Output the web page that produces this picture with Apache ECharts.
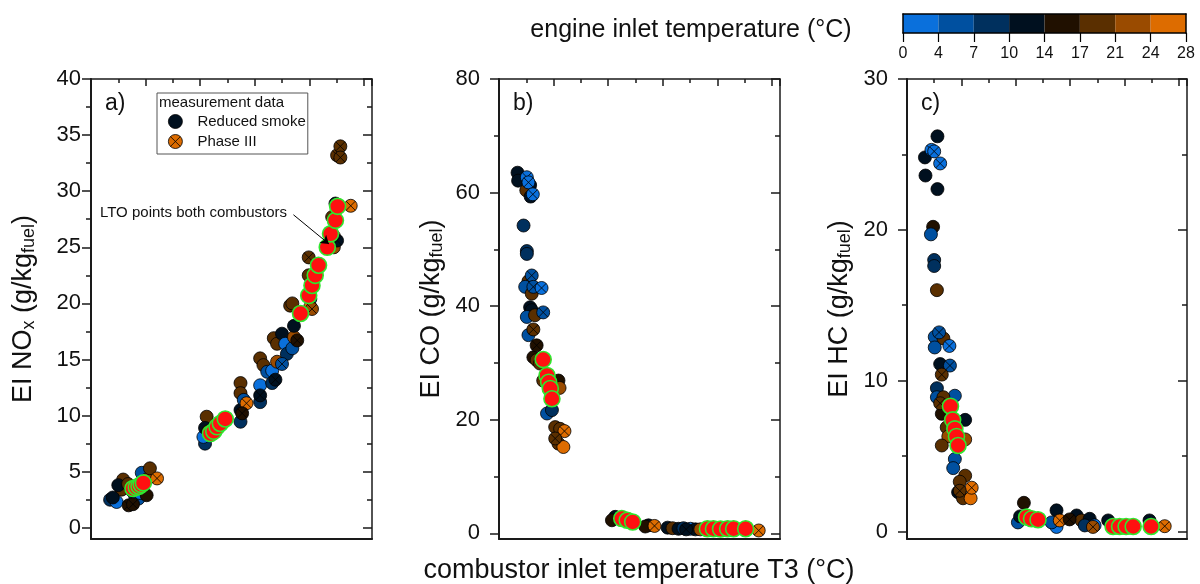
<!DOCTYPE html>
<html><head><meta charset="utf-8">
<script src="https://cdn.jsdelivr.net/npm/echarts@6/dist/echarts.min.js"></script>
<style>html,body{margin:0;padding:0;background:#fff}#c{width:1200px;height:584px}</style>
</head><body><div id="c"></div>
<script>
const FONT = '"Liberation Sans", Arial, sans-serif';

// ---- colour bar (engine inlet temperature, °C)
const tempTicks = [0, 4, 7, 10, 14, 17, 21, 24, 28];
const tempColors = ['#0a70dc', '#0050a0', '#00305e', '#00101f', '#201000', '#5a2f00', '#9a4b00', '#dd6c00'];

// ---- shared x axis (combustor inlet temperature T3, °C; no labels shown)
const t3Min = 100, t3Max = 615;
const t3Step = 100;
const t3Minor = [150, 250, 350, 450, 550];

// ---- y ticks
const noxTicks = [0, 5, 10, 15, 20, 25, 30, 35, 40];
const noxMinor = [2.5, 7.5, 12.5, 17.5, 22.5, 27.5, 32.5, 37.5];
const coTicks = [0, 20, 40, 60, 80];
const coMinor = [10, 30, 50, 70];
const hcTicks = [0, 10, 20, 30];
const hcMinor = [5, 15, 25];

// ---- data: [T3 °C, EI g/kg, engine inlet temperature °C]
const noxSmoke = [
 [135,2.5,9],[147,2.3,2],[156,3.4,19],[159,4.3,19],[150,3.8,12],[181,2.8,9],[187,2.6,5],[190,3.1,2],[193,4.9,5],[202,2.9,15],[202,4.3,22],[208,5.3,19],[168,3.9,19],[140,2.7,12],
 [312,9.9,19],[309,7.5,9],[306,8.1,2],[309,8.9,12],[315,8.6,19],[374,9.45,9],[374,10.5,12],[374,12.9,19],[374,12.0,19],[380,11.4,5],
 [410,11.2,9],[410,12.7,2],[410,15.1,19],[416,14.5,19],[423,13.9,5],[432,12.9,9],[432,14.0,2],[441,14.8,22],[435,16.9,19],[441,16.4,19],[450,17.3,12],[456,16.4,2],[459,15.5,9],[469,16.0,5],[472,17.0,22],[472,18.0,12],[465,19.8,19],[469,20.0,19],[502,20.4,5],[499,22.5,19],
 [545,26.0,26],[545,25.0,22],[542,27.7,19],[548,28.9,12],[539,25.5,9]
];
const noxPhase3 = [
 [169,2.0,15],[177,2.1,15],[221,4.4,26],[175,3.3,19],
 [385,11.1,26],[377,10.2,15],
 [410,11.8,12],[438,13.2,12],[450,14.6,5],[478,16.7,15],[502,19.7,26],[505,19.5,22],[499,24.1,19],
 [551,25.6,12],[551,33.2,19],[557,34.0,19],[557,33.0,19],[576,28.7,26]
];
const noxLTO = [[177,3.5],[183,3.6],[188,3.7],[192,3.85],[196,4.0],[319,8.4],[325,8.6],[331,9.0],[337,9.3],[346,9.7],[484,19.1],[499,20.7],[505,21.6],[511,22.5],[517,23.4],[533,25.0],[539,26.2],[548,27.4],[552,28.65]];

const coSmoke = [
 [134,63.5,12],[135,62.1,12],[157,61.3,12],[150,60.4,19],[158,59.3,12],[145,54.2,9],[151,49.7,9],[151,49.2,9],[154,44.4,19],[148,43.4,5],[160,42.2,19],[157,39.8,12],[160,39.3,12],[151,38.1,5],[166,38.4,19],[154,34.9,5],[163,31.0,15],[169,30.5,19],[175,29.9,19],[181,26.9,19],[209,26.9,15],[211,25.6,22],[188,21.1,5],[197,21.7,9],[203,18.7,19],[212,18.4,19],[209,15.8,19],[218,15.2,26],
 [313,2.9,12],[307,2.3,15],[374,1.4,12],[368,1.2,15],[409,1.0,12],[418,0.9,19],[429,0.8,12],[438,0.9,9],[451,0.8,2],[460,0.7,12],[469,0.7,22]
];
const coPhase3 = [
 [151,62.7,2],[154,61.8,2],[162,59.7,2],[160,45.4,5],[163,43.4,5],[178,43.2,2],[181,38.9,5],[163,35.9,19],[169,33.1,15],[220,18.0,26],[203,16.7,19],
 [385,1.3,26],[576,0.5,26],[443,0.7,12]
];
const coLTO = [[181,30.6],[188,27.8],[191,26.6],[194,25.5],[197,23.7],[325,2.6],[335,2.3],[345,2.0],[482,0.8],[493,0.8],[506,0.75],[519,0.8],[530,0.8],[552,0.8]];

const hcSmoke = [
 [156,26.2,12],[133,24.8,12],[134,23.6,12],[156,22.7,12],[148,20.2,15],[144,19.7,5],[150,18.0,9],[150,17.6,9],[155,16.0,19],[151,12.9,5],[167,12.8,19],[151,12.2,5],[161,11.1,12],[155,9.5,9],[155,8.9,5],[188,9.0,5],[167,8.9,19],[164,7.8,15],[207,7.4,12],[173,6.9,19],[176,6.3,22],[207,6.1,22],[164,5.7,19],[188,4.8,5],[185,4.2,5],[207,3.7,19],[197,3.3,19],[194,2.6,12],[203,2.2,19],[217,2.2,26],
 [315,1.9,15],[304,0.6,5],[308,1.0,12],[375,1.4,12],[375,0.3,2],[366,0.6,5],[412,1.06,12],[421,0.73,19],[436,0.84,12],[445,0.4,2],[427,0.4,9],[470,0.73,12],[546,0.73,12]
];
const hcPhase3 = [
 [145,25.3,2],[150,25.2,2],[161,24.4,2],[159,13.2,5],[178,12.3,2],[179,11.0,5],[164,10.4,19],[161,8.5,19],[219,2.9,26],[197,2.7,19],
 [381,0.73,26],[442,0.3,22],[574,0.35,26],[399,0.8,15]
];
const hcLTO = [[180,8.3],[184,7.4],[188,6.8],[191,6.3],[194,5.7],[320,0.95],[329,0.84],[341,0.78],[479,0.33],[491,0.33],[503,0.33],[516,0.33],[549,0.33]];

// arrow of the annotation in panel a, [T3, EI]
const arrowCoords = [[471, 27.9], [536, 25.3]];

function tempColor(t) {
  for (let i = 0; i < tempColors.length; i++) if (t < tempTicks[i + 1]) return tempColors[i];
  return tempColors[tempColors.length - 1];
}
const crossSymbol = 'path://M10,0A10,10,0,1,1,-10,0A10,10,0,1,1,10,0ZM-7.07,-7.07L7.07,7.07M7.07,-7.07L-7.07,7.07';
const AX = '#1a1a1a';

const panels = [
  { grid: {left: 91, top: 79, width: 281, height: 460}, yMin: -1, yMax: 40, major: noxTicks, minor: noxMinor, margin: 10,
    name: '{n|EI NO}{s|x}{n| (g/kg}{s|fuel}{n|)}', smoke: noxSmoke, phase: noxPhase3, lto: noxLTO, tag: 'a)' },
  { grid: {left: 499, top: 79, width: 281, height: 460}, yMin: -1, yMax: 80, major: coTicks, minor: coMinor, margin: 19,
    name: '{n|EI CO (g/kg}{s|fuel}{n|)}', smoke: coSmoke, phase: coPhase3, lto: coLTO, tag: 'b)' },
  { grid: {left: 907, top: 79, width: 280, height: 460}, yMin: -0.5, yMax: 30, major: hcTicks, minor: hcMinor, margin: 19,
    name: '{n|EI HC (g/kg}{s|fuel}{n|)}', smoke: hcSmoke, phase: hcPhase3, lto: hcLTO, tag: 'c)' }
];

const grids = [], xAxes = [], yAxes = [], series = [], graphics = [];
panels.forEach((p, g) => {
  grids.push(Object.assign({}, p.grid));
  const xb = {gridIndex: g, type: 'value', min: t3Min, max: t3Max, splitLine: {show: false}, axisLabel: {show: false}};
  xAxes.push(Object.assign({}, xb, {position: 'bottom', axisLine: {show: true, onZero: false, lineStyle: {color: AX, width: 2}}, axisTick: {show: false}}));
  xAxes.push(Object.assign({}, xb, {position: 'top', interval: t3Step, axisLine: {show: true, onZero: false, lineStyle: {color: AX, width: 1.5}},
    axisTick: {show: true, inside: true, length: 7, lineStyle: {color: AX, width: 1.5}}}));
  xAxes.push(Object.assign({}, xb, {position: 'top', axisLine: {show: false, onZero: false},
    axisTick: {show: true, inside: true, length: 4, lineStyle: {color: AX, width: 1.5}, customValues: t3Minor}}));
  const yb = {gridIndex: g, type: 'value', min: p.yMin, max: p.yMax, splitLine: {show: false}};
  yAxes.push(Object.assign({}, yb, {position: 'left',
    axisLine: {show: true, onZero: false, lineStyle: {color: AX, width: 2}},
    axisTick: {show: true, inside: false, length: 9, lineStyle: {color: AX, width: 1.5}, customValues: p.major},
    axisLabel: {show: true, customValues: p.major, margin: p.margin, color: '#111', fontSize: 22, fontFamily: FONT},
    name: p.name, nameLocation: 'middle', nameGap: 53,
    nameTextStyle: {color: '#111', fontFamily: FONT, rich: {
      n: {fontSize: 27, fontFamily: FONT, color: '#111'},
      s: {fontSize: 18, fontFamily: FONT, color: '#111', padding: [11, 0, 0, 0]}}}}));
  yAxes.push(Object.assign({}, yb, {position: 'left', axisLine: {show: false, onZero: false}, axisLabel: {show: false},
    axisTick: {show: true, inside: false, length: 5, lineStyle: {color: AX, width: 1.5}, customValues: p.minor}}));
  yAxes.push(Object.assign({}, yb, {position: 'right', axisLine: {show: true, onZero: false, lineStyle: {color: AX, width: 1.5}}, axisLabel: {show: false},
    axisTick: {show: true, inside: true, length: 9, lineStyle: {color: AX, width: 1.5}, customValues: p.major}}));
  yAxes.push(Object.assign({}, yb, {position: 'right', axisLine: {show: false, onZero: false}, axisLabel: {show: false},
    axisTick: {show: true, inside: true, length: 5, lineStyle: {color: AX, width: 1.5}, customValues: p.minor}}));

  const xi = 3 * g, yi = 4 * g;
  series.push({type: 'scatter', name: 'Reduced smoke', xAxisIndex: xi, yAxisIndex: yi, data: p.smoke,
    symbol: 'circle', symbolSize: 13, z: 2,
    itemStyle: {color: (q) => tempColor(q.data[2]), borderColor: '#000', borderWidth: 0.8, opacity: 1}});
  series.push({type: 'scatter', name: 'Phase III', xAxisIndex: xi, yAxisIndex: yi, data: p.phase,
    symbol: crossSymbol, symbolSize: 13, z: 3,
    itemStyle: {color: (q) => tempColor(q.data[2]), borderColor: '#000', borderWidth: 0.8, opacity: 1}});
  series.push({type: 'scatter', name: 'LTO', xAxisIndex: xi, yAxisIndex: yi, data: p.lto,
    symbol: 'circle', symbolSize: 16, z: 4,
    itemStyle: {color: '#ff1010', borderColor: '#2ee82e', borderWidth: 1.6, opacity: 1}});

  graphics.push({type: 'text', left: p.grid.left + 14, top: 92, z: 10,
    style: {text: p.tag, font: '23px ' + FONT, fill: '#111'}});
});

// annotation arrow in panel a
series.push({type: 'lines', coordinateSystem: 'cartesian2d', xAxisIndex: 0, yAxisIndex: 0, z: 6,
  symbol: ['none', 'arrow'], symbolSize: 8, lineStyle: {color: '#000', width: 1, opacity: 1},
  data: [{coords: arrowCoords}]});

// colour bar grid
const cg = grids.length;
grids.push({left: 903, top: 14, width: 283, height: 19});
xAxes.push({gridIndex: cg, type: 'value', min: 0, max: tempColors.length, interval: 1, position: 'bottom', z: 5,
  axisLine: {show: true, onZero: false, lineStyle: {color: '#000', width: 1.5}},
  axisTick: {show: true, inside: false, length: 9, lineStyle: {color: '#000', width: 1.2}},
  axisLabel: {show: true, margin: 13, fontSize: 16, fontFamily: FONT, color: '#111', formatter: (v) => String(tempTicks[Math.round(v)])},
  splitLine: {show: false}});
xAxes.push({gridIndex: cg, type: 'value', min: 0, max: tempColors.length, position: 'top', z: 5,
  axisLine: {show: true, onZero: false, lineStyle: {color: '#000', width: 1.5}}, axisTick: {show: false}, axisLabel: {show: false}, splitLine: {show: false}});
yAxes.push({gridIndex: cg, type: 'value', min: 0, max: 1, position: 'left', z: 5,
  axisLine: {show: true, onZero: false, lineStyle: {color: '#000', width: 1.5}}, axisTick: {show: false}, axisLabel: {show: false}, splitLine: {show: false}});
yAxes.push({gridIndex: cg, type: 'value', min: 0, max: 1, position: 'right', z: 5,
  axisLine: {show: true, onZero: false, lineStyle: {color: '#000', width: 1.5}}, axisTick: {show: false}, axisLabel: {show: false}, splitLine: {show: false}});
series.push({type: 'custom', xAxisIndex: xAxes.length - 2, yAxisIndex: yAxes.length - 2, z: 1,
  data: tempColors.map((c, i) => [i]),
  renderItem: (params, api) => {
    const i = api.value(0);
    const a = api.coord([i, 1]), b = api.coord([i + 1, 0]);
    return {type: 'rect', shape: {x: a[0], y: a[1], width: b[0] - a[0], height: b[1] - a[1]}, style: {fill: tempColors[i]}};
  }});

graphics.push({type: 'text', x: 691, y: 30, style: {text: 'engine inlet temperature (°C)', font: '25px ' + FONT, fill: '#111', align: 'center', verticalAlign: 'middle'}});
graphics.push({type: 'text', x: 639, y: 571, style: {text: 'combustor inlet temperature T3 (°C)', font: '27px ' + FONT, fill: '#111', align: 'center', verticalAlign: 'middle'}});
graphics.push({type: 'text', left: 100, top: 205, z: 10, style: {text: 'LTO points both combustors', font: '15px ' + FONT, fill: '#111'}});
graphics.push({type: 'text', left: 159, top: 95, z: 10, style: {text: 'measurement data', font: '15px ' + FONT, fill: '#111'}});

const chart = echarts.init(document.getElementById('c'), null, {renderer: 'canvas'});
chart.setOption({
  animation: false,
  backgroundColor: '#fff',
  textStyle: {fontFamily: FONT},
  grid: grids, xAxis: xAxes, yAxis: yAxes, series: series,
  legend: {left: 157, top: 93, orient: 'vertical', padding: [21, 2, 5, 11], itemWidth: 14, itemHeight: 14, itemGap: 5,
    borderColor: '#555', borderWidth: 1, backgroundColor: '#fff', selectedMode: false,
    textStyle: {fontSize: 15, fontFamily: FONT, color: '#111', padding: [0, 0, 0, 10]},
    data: [
      {name: 'Reduced smoke', icon: 'circle', itemStyle: {color: '#00101f', borderColor: '#000', borderWidth: 0.8}},
      {name: 'Phase III', icon: crossSymbol, itemStyle: {color: '#dd6c00', borderColor: '#000', borderWidth: 0.8}}
    ]},
  graphic: graphics
});
</script>
</body></html>
